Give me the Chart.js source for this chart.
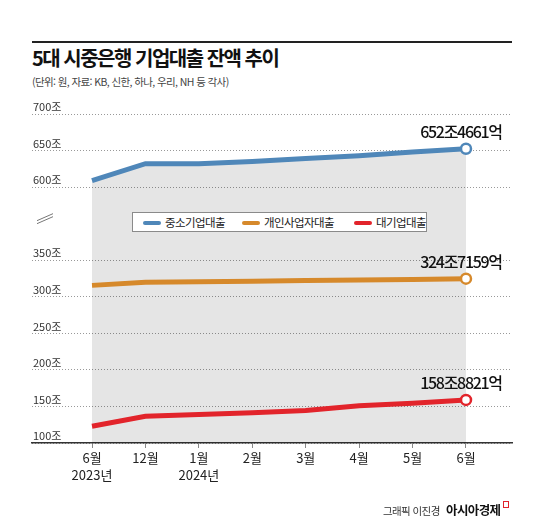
<!DOCTYPE html>
<html lang="ko">
<head>
<meta charset="utf-8">
<script src="https://cdn.jsdelivr.net/npm/chart.js@4"></script>
<style>
  html, body { margin: 0; padding: 0; background: #fff; }
  body { width: 550px; height: 532px; position: relative; overflow: hidden; font-family: "Noto Sans CJK KR", "Noto Sans", sans-serif; }
  #chart { position: absolute; left: 0; top: 0; }
  .rule { position: absolute; left: 32px; top: 41px; width: 480px; height: 2px; background: #222; }
  .title { position: absolute; left: 32px; top: 45px; font-size: 20px; line-height: 26px; font-weight: 700; letter-spacing: -1.5px; color: #111; }
  .sub { position: absolute; left: 32px; top: 74px; font-size: 10.5px; line-height: 16px; letter-spacing: -0.6px; color: #444; }
  .legend { position: absolute; left: 132px; top: 212px; width: 293px; height: 18px; border: 1px solid #8a8a8a; background: #fff; font-size: 11.5px; line-height: 18px; letter-spacing: -0.6px; color: #222; }
  .legend span.item { position: absolute; top: 0; white-space: nowrap; }
  .legend i { display: inline-block; width: 18px; height: 4px; border-radius: 2px; vertical-align: middle; margin-right: 4px; position: relative; top: -1px; }
  .credit { position: absolute; left: 383px; top: 503px; font-size: 10.5px; line-height: 16px; letter-spacing: -0.6px; color: #333; white-space: nowrap; }
  .brand { position: absolute; left: 446px; top: 501px; font-size: 12.5px; line-height: 18px; font-weight: 700; letter-spacing: -0.6px; color: #111; white-space: nowrap; }
  .brand b { display: inline-block; width: 4px; height: 5px; border: 1.5px solid #e0242c; margin-left: 2px; position: relative; top: -7px; }
</style>
</head>
<body>
<div class="rule"></div>
<div class="title">5대 시중은행 기업대출 잔액 추이</div>
<div class="sub">(단위: 원, 자료: KB, 신한, 하나, 우리, NH 등 각사)</div>
<canvas id="chart" width="550" height="532"></canvas>
<div class="legend" id="legend"></div>
<div class="credit">그래픽 이진경</div>
<div class="brand">아시아경제<b></b></div>
<script>
// --- DATOS ---
const xLabels = [['6월', '2023년'], '12월', ['1월', '2024년'], '2월', '3월', '4월', '5월', '6월'];
const seriesNames = ['중소기업대출', '개인사업자대출', '대기업대출'];
const seriesColors = ['#4f87b9', '#d6892b', '#e2242b'];
const smeLoans = [609, 632, 632, 635, 639, 643, 648, 652.47];
const soloLoans = [315.6, 320, 320.5, 321.4, 322.3, 323, 323.6, 324.72];
const largeLoans = [123, 136.5, 139, 141.5, 144.6, 151, 154.5, 158.88];
const endLabels = ['652조4661억', '324조7159억', '158조8821억'];
const yTickLabels = ['100조', '150조', '200조', '250조', '300조', '350조', '', '600조', '650조', '700조'];
const BREAK_TICK = 6;

// eje partido: 100~350 abajo, 600~700 arriba
function toAxis(v) {
    return v < 500 ? (v - 100) / 50 : (v - 600) / 50 + 7;
}

const legendEl = document.getElementById('legend');
const legendX = [10, 109, 221];
seriesNames.forEach((name, i) => {
    const s = document.createElement('span');
    s.className = 'item';
    s.style.left = legendX[i] + 'px';
    s.innerHTML = `<i style="background:${seriesColors[i]}"></i>${name}`;
    legendEl.appendChild(s);
});

const allSeries = [smeLoans, soloLoans, largeLoans];
const lastIdx = xLabels.length - 1;

const datasets = allSeries.map((vals, i) => ({
    label: seriesNames[i],
    data: vals.map((v, k) => ({ x: k, y: toAxis(v) })),
    borderColor: seriesColors[i],
    backgroundColor: i === 0 ? 'rgba(0,0,0,0.1)' : seriesColors[i],
    fill: i === 0 ? 'start' : false,
    borderWidth: 5,
    tension: 0,
    pointRadius: ctx => ctx.dataIndex === lastIdx ? 5 : 0,
    pointBackgroundColor: '#fff',
    pointBorderColor: seriesColors[i],
    pointBorderWidth: 2.5,
    order: 3 - i
}));

// etiquetas finales + marca de corte
const extras = {
    id: 'extras',
    afterDatasetsDraw(chart) {
        const ctx = chart.ctx;
        ctx.save();
        ctx.font = '500 16px "Noto Sans CJK KR", sans-serif';
        ctx.letterSpacing = '-1.3px';
        ctx.fillStyle = '#111';
        ctx.textAlign = 'center';
        ctx.textBaseline = 'middle';
        chart.data.datasets.forEach((ds, i) => {
            const pt = chart.getDatasetMeta(i).data[lastIdx];
            ctx.fillText(endLabels[i], pt.x - 5, pt.y - 17);
        });
        ctx.restore();

        const yb = chart.scales.y.getPixelForValue(BREAK_TICK) - 6;
        ctx.save();
        ctx.strokeStyle = '#777';
        ctx.lineWidth = 1;
        ctx.beginPath();
        ctx.moveTo(37, yb + 3); ctx.lineTo(53, yb - 4);
        ctx.moveTo(37, yb + 6); ctx.lineTo(53, yb - 1);
        ctx.stroke();
        ctx.restore();
    }
};

new Chart(document.getElementById('chart'), {
    type: 'line',
    data: { datasets },
    plugins: [extras],
    options: {
        responsive: false,
        animation: false,
        layout: { padding: { left: 32, right: 38, top: 114, bottom: 39 } },
        plugins: { legend: { display: false }, tooltip: { enabled: false } },
        scales: {
            x: {
                type: 'linear',
                min: -1.123,
                max: 7.861,
                afterBuildTicks: s => { s.ticks = xLabels.map((_, i) => ({ value: i })); },
                afterFit: s => { s.height = 50; },
                grid: { drawOnChartArea: false, tickLength: 5, color: '#888' },
                border: { display: true, color: '#333', width: 1.5 },
                ticks: {
                    autoSkip: false,
                    maxRotation: 0,
                    padding: 2,
                    color: '#222',
                    font: { family: '"Noto Sans CJK KR", sans-serif', size: 13, lineHeight: 1.3 },
                    callback: v => xLabels[v]
                }
            },
            y: {
                min: 0,
                max: 9,
                afterBuildTicks: s => { s.ticks = yTickLabels.map((_, i) => ({ value: i })); },
                afterFit: s => { s.width = 0; },
                grid: {
                    drawTicks: false,
                    color: c => c.tick && c.tick.value === BREAK_TICK ? 'rgba(0,0,0,0)' : '#999',
                    lineWidth: 1
                },
                border: { display: false, dash: [1, 2] },
                ticks: {
                    mirror: true,
                    padding: 1,
                    labelOffset: -7,
                    color: '#333',
                    font: { family: '"Noto Sans CJK KR", sans-serif', size: 11 },
                    callback: v => yTickLabels[v]
                }
            }
        }
    }
});
</script>
</body>
</html>
